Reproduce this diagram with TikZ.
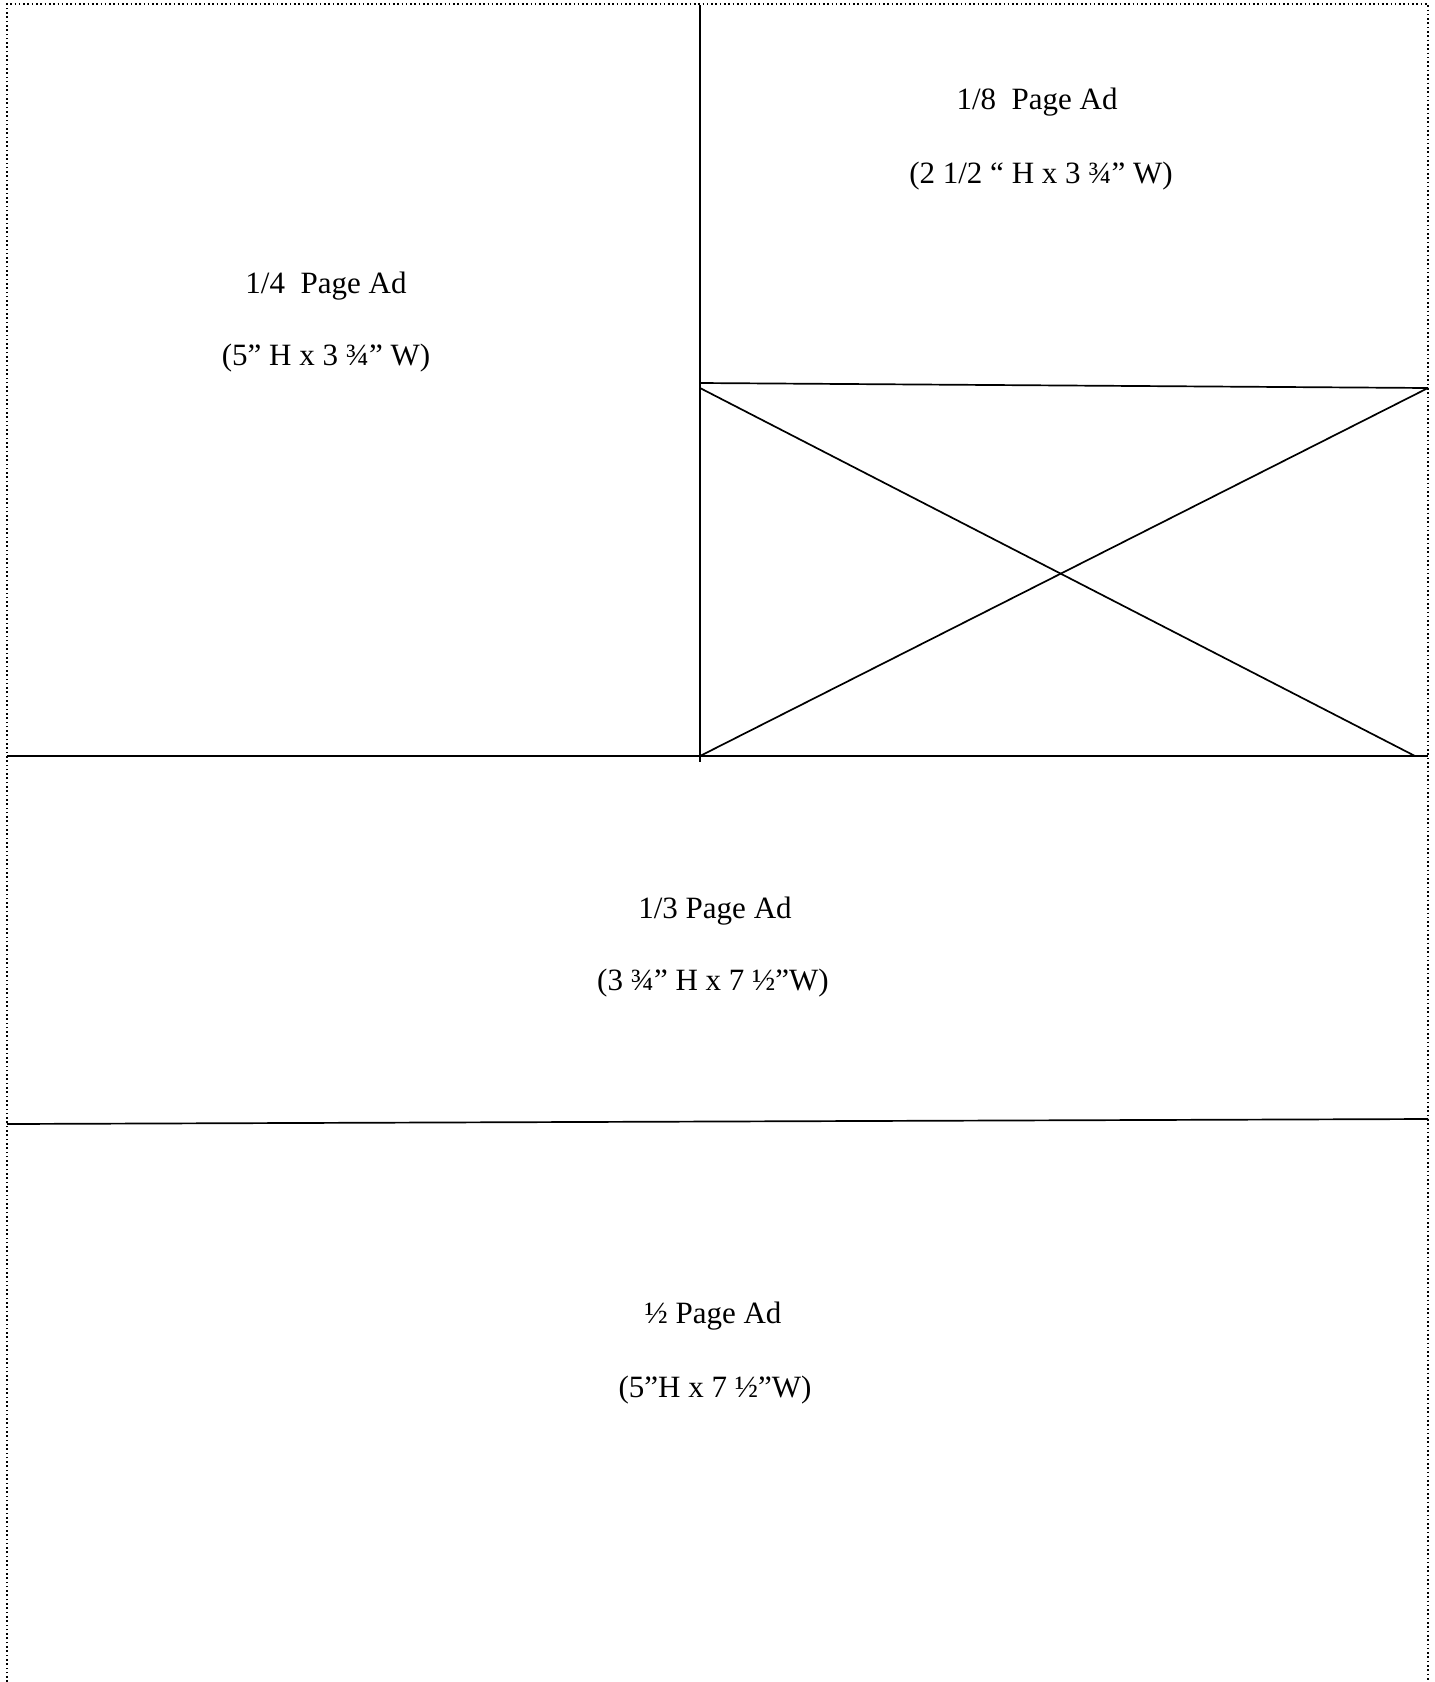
\documentclass[tikz,border=0pt]{standalone}
\usepackage{fontspec}
\setmainfont{Liberation Serif}
\begin{document}
\begin{tikzpicture}[x=0.5pt, y=-0.5pt,
  pageframe/.style={line width=0.8pt, dash pattern=on 0.8pt off 1.35pt},
  cutline/.style={line width=0.85pt},
  adlbl/.style={anchor=base, inner sep=0pt, font=\fontsize{15.5}{18}\selectfont}
]
\useasboundingbox (0,0) rectangle (1435,1682);
% page frame (dotted, open at the bottom)
\coordinate (fbl) at (7,1682);
\coordinate (ftl) at (7,4);
\coordinate (ftr) at (1428,4);
\coordinate (fbr) at (1428,1682);
\draw[pageframe] (fbl) -- (ftl) -- (ftr) -- (fbr);
% cut lines
\coordinate (vtop) at (700,5);
\coordinate (vbot) at (700,762);
\coordinate (ml) at (7,756);
\coordinate (mc) at (700,756);
\coordinate (mr) at (1428,756);
\coordinate (el) at (700,383);
\coordinate (er) at (1428,388);
\coordinate (xl) at (700,388);
\coordinate (xr) at (1415,756);
\coordinate (ll) at (7,1124);
\coordinate (lr) at (1428,1119);
\draw[cutline] (vtop) -- (vbot);
\draw[cutline] (ml) -- (mr);
\draw[cutline] (el) -- (er);
\draw[cutline] (xl) -- (xr);
\draw[cutline] (mc) -- (er);
\draw[cutline] (ll) -- (lr);
% ad labels
\node[adlbl] (q1) at (326,293) {1/4\ \ Page Ad};
\node[adlbl] (q2) at (326,365) {(5” H x 3 ¾” W)};
\node[adlbl] (e1) at (1037,109) {1/8\ \ Page Ad};
\node[adlbl] (e2) at (1041,183) {(2 1/2 “ H x 3 ¾” W)};
\node[adlbl] (t1) at (715,918) {1/3 Page Ad};
\node[adlbl] (t2) at (713,990) {(3 ¾” H x 7 ½”W)};
\node[adlbl] (h1) at (713,1323) {½ Page Ad};
\node[adlbl] (h2) at (715,1397) {(5”H x 7 ½”W)};
\end{tikzpicture}
\end{document}
